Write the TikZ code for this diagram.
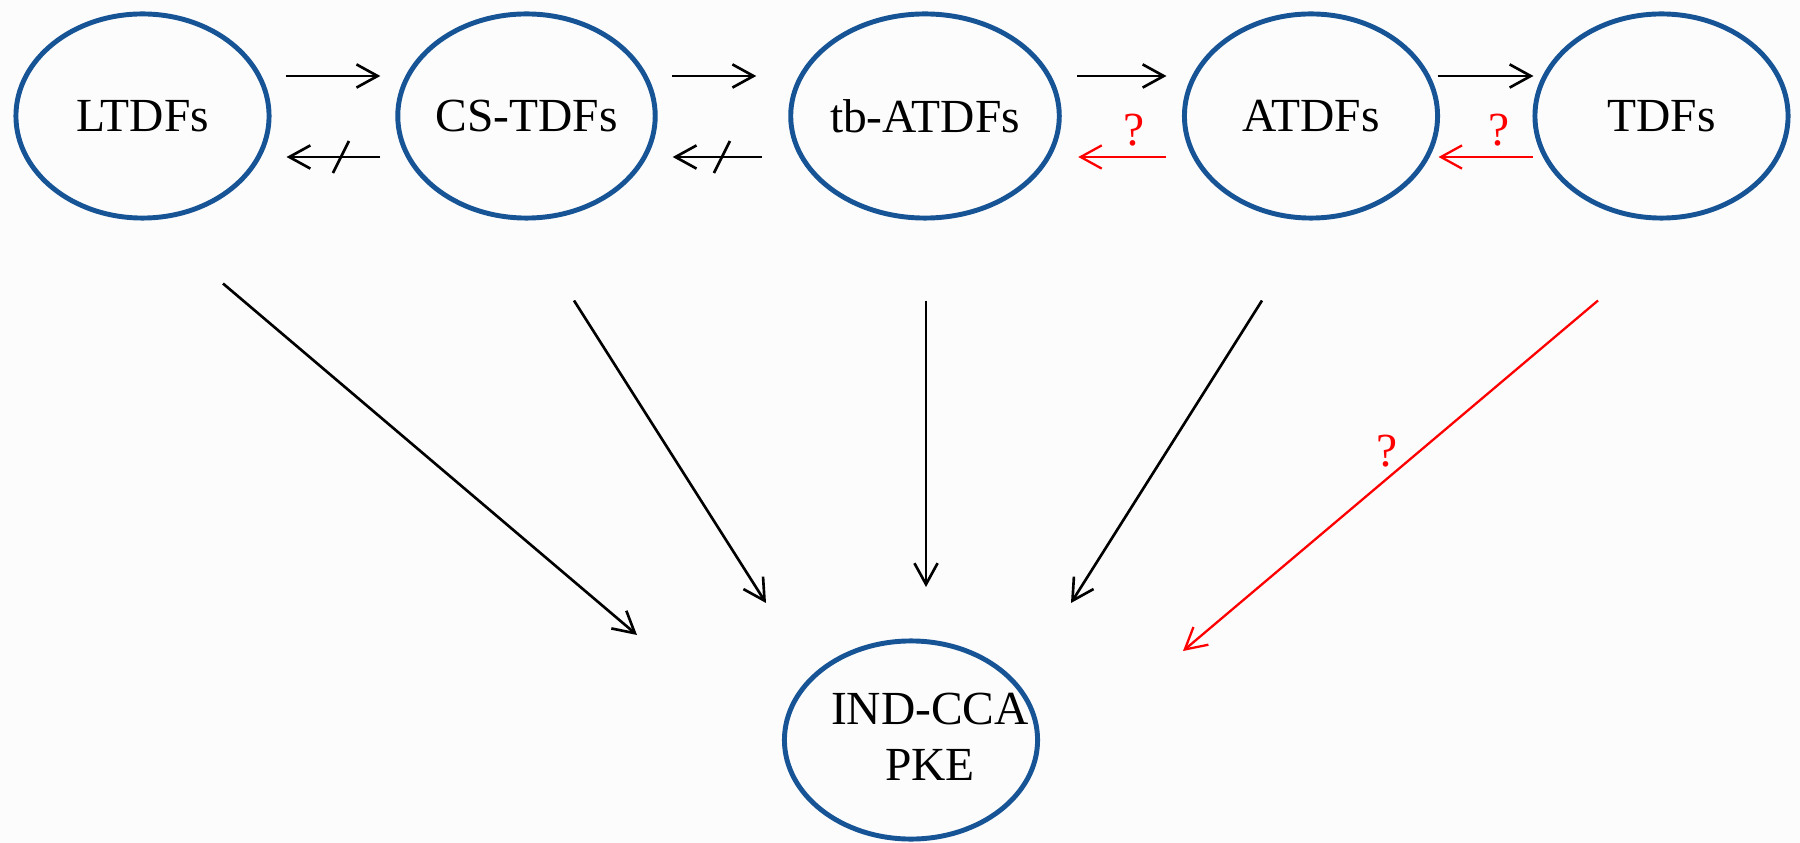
\documentclass[tikz,border=0pt]{standalone}
\usepackage{fontspec}
\setmainfont{Liberation Serif}
\usetikzlibrary{calc,arrows.meta,shapes.geometric}

\definecolor{ovalblue}{RGB}{22,84,150}
\definecolor{qred}{RGB}{255,0,0}
\definecolor{paper}{RGB}{252,252,252}

\tikzset{
  oval/.style={ellipse,draw=ovalblue,line width=1.4pt,minimum width=2.53cm,minimum height=2.04cm,inner sep=0pt,font=\fontsize{13.5}{16}\selectfont},
  imp/.style={-{Straight Barb[length=6pt,width=6.6pt]},line width=0.75pt},
  openimp/.style={imp,draw=qred,line width=0.65pt},
  qmark/.style={text=qred,font=\fontsize{13.5}{16}\selectfont,inner sep=2pt}
}

\begin{document}
\begin{tikzpicture}[x=0.01cm,y=-0.01cm]
\fill[paper] (0,0) rectangle (1800,843);
\useasboundingbox (0,0) rectangle (1800,843);

\node[oval] (ltdf) at (142.5,116) {LTDFs};
\node[oval] (cstdf) at (526.5,116) {CS-TDFs};
\node[oval] (tbatdf) at (925,116) {tb-ATDFs};
\node[oval] (atdf) at (1311,116) {ATDFs};
\node[oval] (tdf) at (1661.5,116) {TDFs};
\node[oval,minimum height=1.98cm] (pke) at (911,740) {};
\node[font=\fontsize{13.5}{16}\selectfont,align=center,inner sep=0pt] (pketext) at ($(pke)+(19,-3)$) {IND-CCA\\PKE};

% implications along the top row
\draw[imp] ($(ltdf.east)+(14,-40)$) -- ($(cstdf.west)+(-15,-40)$);
\draw[imp] ($(cstdf.east)+(14.5,-40)$) -- ($(tbatdf.west)+(-32,-40)$);
\draw[imp] ($(tbatdf.east)+(15.5,-40)$) -- ($(atdf.west)+(-15.5,-40)$);
\draw[imp] ($(atdf.east)+(-2.5,-40)$) -- ($(tdf.west)+(1,-40)$);

% separations
\draw[imp] ($(cstdf.west)+(-15,41)$) -- coordinate[pos=0.42] (cut1) ($(ltdf.east)+(15,41)$);
\draw[line width=0.75pt] ($(cut1)+(-8,16)$) -- ($(cut1)+(8,-16)$);
\draw[imp] ($(tbatdf.west)+(-26,41)$) -- coordinate[pos=0.45] (cut2) ($(cstdf.east)+(15,41)$);
\draw[line width=0.75pt] ($(cut2)+(-8,16)$) -- ($(cut2)+(8,-16)$);

% open questions
\draw[openimp] ($(atdf.west)+(-15.5,41)$) -- node[qmark,pos=0.37,above=0.8pt] (q1) {?} ($(tbatdf.east)+(16.5,41)$);
\draw[openimp] ($(tdf.west)+(1,41)$) -- node[qmark,pos=0.36,above=0.8pt] (q2) {?} ($(atdf.east)+(-1.5,41)$);

% down to IND-CCA PKE
\draw[imp] ($(ltdf.south)+(80.5,63)$) -- ($(pke)+(-274,-105)$);
\draw[imp] ($(cstdf.south)+(47.5,80)$) -- ($(pke)+(-145,-137)$);
\draw[imp] ($(tbatdf.south)+(1,80)$) -- ($(pke)+(15,-153)$);
\draw[imp] ($(atdf.south)+(-49,80)$) -- ($(pke)+(160,-137)$);
\draw[openimp] ($(tdf.south)+(-63.5,80)$) -- node[qmark,pos=0.43,left=4pt] (q3) {?} ($(pke)+(272,-89)$);
\end{tikzpicture}
\end{document}
